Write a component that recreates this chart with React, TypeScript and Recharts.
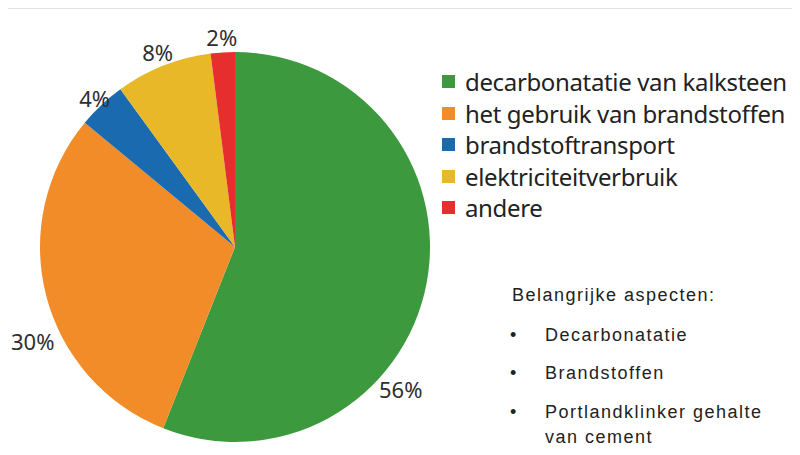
import React from 'react';
import { PieChart, Pie, Cell } from 'recharts';

const categories = [
  'decarbonatatie van kalksteen',
  'het gebruik van brandstoffen',
  'brandstoftransport',
  'elektriciteitverbruik',
  'andere',
];
const values = [56, 30, 4, 8, 2];
const colors = ['#3d993d', '#f28c28', '#1a6ab0', '#e8b828', '#e62e2e'];
const aspectsTitle = 'Belangrijke aspecten:';
const aspects = ['Decarbonatatie', 'Brandstoffen', 'Portlandklinker gehalte', 'van cement'];

// label placement tweaks (layout only)
const labelAngleShift = [-29.7, 10.5, 0, 0, 0];
const labelRadiusShift = [23, 28, 10, 15, 15];

const data = categories.map((name, i) => ({ name, value: values[i] }));
const RAD = Math.PI / 180;

const renderLabel = (props: any) => {
  const { cx, cy, midAngle, outerRadius, index, value } = props;
  const a = midAngle + labelAngleShift[index];
  const r = outerRadius + labelRadiusShift[index];
  const x = cx + Math.cos(-a * RAD) * r;
  const y = cy + Math.sin(-a * RAD) * r;
  return (
    <text
      x={x}
      y={y}
      textAnchor="middle"
      dominantBaseline="central"
      fill="#2e2e2e"
      fontFamily="'Noto Sans', sans-serif"
      fontSize={22}
    >
      {value}%
    </text>
  );
};

export default function App() {
  const textStyle: React.CSSProperties = {
    position: 'absolute',
    fontFamily: "'Liberation Sans', Arial, sans-serif",
    fontSize: 18,
    letterSpacing: 1.5,
    color: '#222',
    whiteSpace: 'nowrap',
    lineHeight: '20px',
  };
  const rowsY = [335, 373, 412, 437];
  return (
    <div
      style={{
        position: 'relative',
        width: 800,
        height: 455,
        marginTop: -8,
        marginLeft: -8,
        background: '#e2e2e2',
        overflow: 'hidden',
      }}
    >
      <div
        style={{
          position: 'absolute',
          left: 8,
          top: 9,
          right: 0,
          bottom: 0,
          background: '#ffffff',
        }}
      />
      <div style={{ position: 'absolute', left: 0, top: 0 }}>
        <PieChart width={800} height={455}>
          <Pie
            data={data}
            dataKey="value"
            nameKey="name"
            cx={230}
            cy={242}
            outerRadius={195}
            startAngle={90}
            endAngle={-270}
            stroke="none"
            label={renderLabel}
            labelLine={false}
            isAnimationActive={false}
          >
            {data.map((d, i) => (
              <Cell key={d.name} fill={colors[i]} />
            ))}
          </Pie>
        </PieChart>
      </div>
      <div style={{ position: 'absolute', left: 442, top: 66 }}>
        {categories.map((c, i) => (
          <div
            key={c}
            style={{
              display: 'flex',
              alignItems: 'center',
              height: 31.5,
              fontFamily: "'Noto Sans', sans-serif",
              fontSize: 24,
              letterSpacing: -0.35,
              color: '#222',
              whiteSpace: 'nowrap',
            }}
          >
            <span
              style={{
                display: 'inline-block',
                width: 13,
                height: 13,
                background: colors[i],
                marginRight: 10,
              }}
            />
            <span>{c}</span>
          </div>
        ))}
      </div>
      <div style={{ ...textStyle, left: 512, top: 295 - 10 }}>{aspectsTitle}</div>
      {aspects.map((t, i) => (
        <React.Fragment key={t}>
          {i < 3 && (
            <div style={{ ...textStyle, left: 510, top: rowsY[i] - 10 }}>•</div>
          )}
          <div style={{ ...textStyle, left: 545, top: rowsY[i] - 10 }}>{t}</div>
        </React.Fragment>
      ))}
    </div>
  );
}
